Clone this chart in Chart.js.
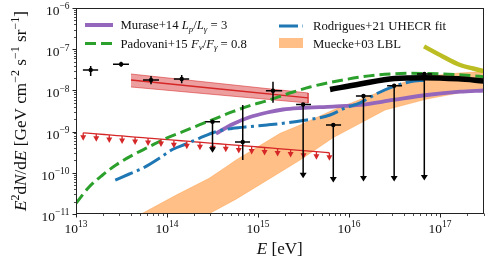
<!DOCTYPE html>
<html><head><meta charset="utf-8">
<script src="https://cdn.jsdelivr.net/npm/chart.js@4.4.1/dist/chart.umd.min.js"></script>
<style>html,body{margin:0;padding:0;background:#fff;overflow:hidden}</style>
</head><body>
<canvas id="c" width="488" height="262"></canvas>
<script>
// ---------- axis ranges and ticks ----------
const xMin = 1e13, xMax = 3e17;
const yMin = 1e-11, yMax = 1e-6;
const xTickExp = [13, 14, 15, 16, 17];
const yTickExp = [-11, -10, -9, -8, -7, -6];
const xTickLabels = ['13', '14', '15', '16', '17'];
const yTickLabels = ['\u221211', '\u221210', '\u22129', '\u22128', '\u22127', '\u22126'];

// ---------- Padovani+15 (green dashed) ----------
const padE = [1.00e13,1.40e13,1.96e13,2.75e13,4.20e13,6.38e13,9.75e13,1.49e14,2.26e14,3.45e14,5.27e14,8.17e14,1.26e15,2.43e15,3.72e15,8.59e15,2.03e16,4.68e16,1.08e17,2.14e17,3.00e17];
const padF = [1.82e-11,4.60e-11,8.85e-11,1.55e-10,2.70e-10,4.30e-10,6.87e-10,9.95e-10,1.45e-9,2.10e-9,3.04e-9,4.27e-9,5.62e-9,9.12e-9,1.21e-8,1.79e-8,2.37e-8,2.60e-8,2.51e-8,2.29e-8,2.14e-8];

// ---------- Murase+14 (purple) ----------
const murE = [3.45e14,5.31e14,8.17e14,1.26e15,1.88e15,2.90e15,6.67e15,1.32e16,3.05e16,7.19e16,1.66e17,3.00e17];
const murF = [8.99e-10,1.53e-9,2.26e-9,2.91e-9,3.44e-9,3.74e-9,4.06e-9,4.43e-9,5.85e-9,7.73e-9,9.29e-9,9.95e-9];

// ---------- Rodrigues+21 (blue dash-dot) ----------
const rodE = [2.70e13,3.85e13,5.41e13,8.22e13,1.16e14,1.62e14,2.26e14,3.45e14,5.27e14,8.17e14,1.26e15,1.88e15,2.90e15,6.18e15,8.59e15,1.32e16,2.03e16,3.05e16,4.68e16,6.84e16];
const rodF = [6.68e-11,9.35e-11,1.29e-10,2.25e-10,3.72e-10,5.00e-10,6.87e-10,9.95e-10,1.20e-9,1.33e-9,1.45e-9,1.59e-9,1.81e-9,2.53e-9,3.55e-9,5.01e-9,8.41e-9,1.23e-8,1.62e-8,1.78e-8];

// ---------- black thick curve ----------
const blkE = [6.18e15,1.32e16,3.16e16,6.76e16,1.58e17,3.00e17];
const blkF = [1.05e-8,1.43e-8,1.95e-8,2.04e-8,1.91e-8,1.70e-8];

// ---------- olive curve ----------
const oliE = [6.67e16,1.08e17,1.66e17,2.31e17,3.00e17];
const oliF = [1.17e-7,6.58e-8,4.14e-8,3.40e-8,2.95e-8];

// ---------- Muecke+03 LBL band ----------
const mueUpE = [3.55e13,5.18e13,1.26e14,2.90e14,4.23e14,5.73e14,1.75e15,2.90e15,6.67e15,2.19e16,3.98e16,7.19e16,1.58e17,3.00e17];
const mueUpF = [6.31e-12,1.00e-11,2.88e-11,7.36e-11,1.29e-10,2.05e-10,9.10e-10,1.45e-9,3.34e-9,9.29e-9,1.58e-8,2.19e-8,2.63e-8,2.88e-8];
const mueLoE = [2.24e14,2.97e14,5.73e14,1.26e15,2.90e15,6.67e15,2.49e16,7.19e16,1.66e17,3.00e17];
const mueLoF = [7.08e-12,1.04e-11,2.29e-11,6.61e-11,2.04e-10,7.08e-10,3.34e-9,6.17e-9,8.71e-9,1.02e-8];

// ---------- red power-law band ----------
const redBandE = [4.02e13, 3.55e15];
const redBandHi = [2.50e-8, 8.65e-9];
const redBandLo = [1.21e-8, 4.94e-9];
const redMid = [1.79e-8, 6.55e-9];

// ---------- red upper limits ----------
const ulE = [1.20e13,1.67e13,2.32e13,3.21e13,4.46e13,6.19e13,8.59e13,1.19e14,1.65e14,2.30e14,3.18e14,4.42e14,6.14e14,8.51e14,1.18e15,1.64e15,2.28e15,3.16e15,4.38e15,6.08e15];
const ulF = [9.33e-10,8.81e-10,8.30e-10,7.83e-10,7.38e-10,6.97e-10,6.58e-10,6.19e-10,5.85e-10,5.51e-10,5.20e-10,4.91e-10,4.62e-10,4.37e-10,4.11e-10,3.88e-10,3.66e-10,3.45e-10,3.26e-10,3.07e-10];

// ---------- black measurements ----------
const obsE   = [1.45e13,3.13e13,6.67e13,1.45e14,3.16e14,6.79e14,1.46e15,3.13e15,6.71e15,1.44e16,3.13e16,6.71e16];
const obsElo = [1.19e13,2.55e13,5.45e13,1.19e14,2.62e14,5.58e14,1.22e15,2.62e15,5.58e15,1.19e16,2.62e16,5.58e16];
const obsEhi = [1.75e13,3.82e13,8.17e13,1.75e14,3.82e14,8.17e14,1.84e15,3.82e15,8.17e15,1.75e16,3.82e16,8.17e16];
const obsF   = [3.13e-8,4.30e-8,1.79e-8,1.89e-8,1.74e-9,5.60e-10,9.84e-9,4.55e-9,1.45e-9,7.31e-9,1.30e-8,2.50e-8];
const obsFlo = [2.24e-8,3.76e-8,1.41e-8,1.49e-8,3.08e-10,2.05e-10,5.02e-9,7.35e-11,5.82e-11,6.15e-11,6.15e-11,6.50e-11];
const obsFhi = [3.91e-8,4.98e-8,2.24e-8,2.37e-8,1.74e-9,4.43e-9,1.63e-8,4.55e-9,1.45e-9,7.31e-9,1.30e-8,2.50e-8];
const obsUL  = [false,false,false,false,true,false,false,true,true,true,true,true];

// ---------- legend / titles ----------
const legendMurase = [{t:'Murase+14 '},{t:'L',it:1},{t:'p',it:1,sub:1},{t:'/'},{t:'L',it:1},{t:'\u03b3',it:1,sub:1},{t:' = 3'}];
const legendPadovani = [{t:'Padovani+15 '},{t:'F',it:1},{t:'\u03bd',it:1,sub:1},{t:'/'},{t:'F',it:1},{t:'\u03b3',it:1,sub:1},{t:' = 0.8'}];
const legendRodrigues = [{t:'Rodrigues+21 UHECR fit'}];
const legendMuecke = [{t:'Muecke+03 LBL'}];
const yTitle = [{t:'E',it:1},{t:'2',sup:1},{t:'d'},{t:'N',it:1},{t:'/d'},{t:'E',it:1},{t:' [GeV cm'},{t:'\u22122',sup:1},{t:' s'},{t:'\u22121',sup:1},{t:' sr'},{t:'\u22121',sup:1},{t:']'}];
const xTitle = [{t:'E',it:1},{t:' [eV]'}];

// ---------- colours ----------
const C_PURPLE = '#9467bd', C_GREEN = '#2ca02c', C_BLUE = '#1f77b4', C_RED = '#d62728', C_OLIVE = '#bcbd22';
const C_ORANGE_FILL = 'rgba(255,127,14,0.5)';
const FONT = '"Liberation Serif", "Times New Roman", serif';

const pts = (xs, ys) => xs.map((x, i) => ({x, y: ys[i]}));
const poly = (xa, ya, xb, yb) => pts(xa, ya).concat(pts(xb, yb).reverse());

function segSize(s, size) { return (s.sup || s.sub) ? size * 0.7 : size; }
function segFont(s, size) { return (s.it ? 'italic ' : '') + segSize(s, size).toFixed(2) + 'px ' + FONT; }
function richWidth(ctx, segs, size) {
  let w = 0;
  for (const s of segs) { ctx.font = segFont(s, size); w += ctx.measureText(s.t).width; }
  return w;
}
function drawRich(ctx, segs, x, y, size, align) {
  const w = richWidth(ctx, segs, size);
  let cx = align === 'center' ? x - w / 2 : align === 'right' ? x - w : x;
  ctx.textAlign = 'left'; ctx.textBaseline = 'alphabetic';
  for (const s of segs) {
    ctx.font = segFont(s, size);
    const dy = s.sup ? -size * 0.42 : s.sub ? size * 0.22 : 0;
    ctx.fillText(s.t, cx, y + dy);
    cx += ctx.measureText(s.t).width;
  }
}
function tri(ctx, x, tipY, w, h) {
  ctx.beginPath();
  ctx.moveTo(x - w / 2, tipY - h); ctx.lineTo(x + w / 2, tipY - h); ctx.lineTo(x, tipY);
  ctx.closePath(); ctx.fill();
}

const deco = {
  id: 'deco',
  afterDatasetsDraw(chart) {
    const ctx = chart.ctx, X = chart.scales.x, Y = chart.scales.y, a = chart.chartArea;
    ctx.save();
    ctx.beginPath(); ctx.rect(a.left, a.top, a.right - a.left, a.bottom - a.top); ctx.clip();
    // red upper-limit arrows
    ctx.strokeStyle = C_RED; ctx.fillStyle = C_RED; ctx.lineWidth = 1.3;
    for (let k = 0; k < ulE.length; k++) {
      const x = X.getPixelForValue(ulE[k]), y = Y.getPixelForValue(ulF[k]);
      ctx.beginPath(); ctx.moveTo(x, y); ctx.lineTo(x, y + 4); ctx.stroke();
      tri(ctx, x, y + 8, 6, 5.5);
    }
    // black measurements
    ctx.strokeStyle = '#000'; ctx.fillStyle = '#000'; ctx.lineWidth = 1.5;
    for (let i = 0; i < obsE.length; i++) {
      const x = X.getPixelForValue(obsE[i]), y = Y.getPixelForValue(obsF[i]);
      const x0 = X.getPixelForValue(obsElo[i]), x1 = X.getPixelForValue(obsEhi[i]);
      const yHi = Y.getPixelForValue(obsFhi[i]), yLo = Y.getPixelForValue(obsFlo[i]);
      ctx.beginPath(); ctx.moveTo(x0, y); ctx.lineTo(x1, y); ctx.stroke();
      if (obsUL[i]) {
        ctx.beginPath(); ctx.moveTo(x, y); ctx.lineTo(x, yLo - 4); ctx.stroke();
        tri(ctx, x, yLo, 7, 5.5);
      } else {
        ctx.beginPath(); ctx.moveTo(x, yHi); ctx.lineTo(x, yLo); ctx.stroke();
      }
      ctx.beginPath(); ctx.arc(x, y, 2.2, 0, Math.PI * 2); ctx.fill();
    }
    ctx.restore();
  },
  afterDraw(chart) {
    const ctx = chart.ctx, X = chart.scales.x, Y = chart.scales.y, a = chart.chartArea;
    ctx.save();
    // frame
    ctx.strokeStyle = '#222'; ctx.lineWidth = 1;
    ctx.strokeRect(Math.round(a.left) + 0.5, Math.round(a.top) + 0.5, Math.round(a.right - a.left) - 1, Math.round(a.bottom - a.top) - 1);
    // ticks
    const bot = Math.round(a.bottom) - 0.5, lft = Math.round(a.left) + 0.5;
    for (let j = 0; j < xTickExp.length; j++) {
      const e = xTickExp[j];
      for (let k = 1; k <= 9; k++) {
        const v = k * Math.pow(10, e);
        if (v < xMin * 0.999 || v > xMax * 1.001) continue;
        const x = Math.round(X.getPixelForValue(v)) + 0.5;
        ctx.lineWidth = k === 1 ? 1 : 0.8;
        ctx.beginPath(); ctx.moveTo(x, bot); ctx.lineTo(x, bot + (k === 1 ? 4 : 2.5)); ctx.stroke();
      }
    }
    for (let j = 0; j < yTickExp.length; j++) {
      const e = yTickExp[j];
      for (let k = 1; k <= 9; k++) {
        const v = k * Math.pow(10, e);
        if (v < yMin * 0.999 || v > yMax * 1.001) continue;
        const y = Math.round(Y.getPixelForValue(v)) + 0.5;
        ctx.lineWidth = k === 1 ? 1 : 0.8;
        ctx.beginPath(); ctx.moveTo(lft, y); ctx.lineTo(lft - (k === 1 ? 4 : 2.5), y); ctx.stroke();
      }
    }
    // tick labels
    ctx.fillStyle = '#111';
    const tSize = 13.5;
    for (let j = 0; j < xTickExp.length; j++) {
      const x = X.getPixelForValue(Math.pow(10, xTickExp[j]));
      drawRich(ctx, [{t:'10'},{t:xTickLabels[j],sup:1}], x, 232.5, tSize, 'center');
    }
    for (let j = 0; j < yTickExp.length; j++) {
      const y = Y.getPixelForValue(Math.pow(10, yTickExp[j]));
      drawRich(ctx, [{t:'10'},{t:yTickLabels[j],sup:1}], 69.5, y + 7, tSize, 'right');
    }
    // axis titles
    let s = 14;
    s = s * 46 / richWidth(ctx, xTitle, s);
    drawRich(ctx, xTitle, (a.left + a.right) / 2, 253.5, s, 'center');
    let sy = 14;
    sy = sy * 200 / richWidth(ctx, yTitle, sy);
    ctx.save(); ctx.translate(26, 111); ctx.rotate(-Math.PI / 2);
    drawRich(ctx, yTitle, 0, 0, sy, 'center');
    ctx.restore();
    // legend
    let ls = 13;
    ls = ls * 133 / richWidth(ctx, legendRodrigues, ls);
    ctx.lineCap = 'butt';
    ctx.strokeStyle = C_PURPLE; ctx.lineWidth = 4; ctx.setLineDash([]);
    ctx.beginPath(); ctx.moveTo(85, 25); ctx.lineTo(113, 25); ctx.stroke();
    ctx.strokeStyle = C_GREEN; ctx.lineWidth = 3; ctx.setLineDash([11, 5]);
    ctx.beginPath(); ctx.moveTo(85, 43.5); ctx.lineTo(113, 43.5); ctx.stroke();
    ctx.strokeStyle = C_BLUE; ctx.lineWidth = 3; ctx.setLineDash([19, 4.5, 3, 4.5]);
    ctx.beginPath(); ctx.moveTo(279, 26); ctx.lineTo(303, 26); ctx.stroke();
    ctx.setLineDash([]);
    ctx.fillStyle = C_ORANGE_FILL; ctx.fillRect(279, 38, 24, 10);
    ctx.fillStyle = '#111';
    drawRich(ctx, legendMurase, 120.5, 29.3, ls, 'left');
    drawRich(ctx, legendPadovani, 120.5, 47.7, ls, 'left');
    drawRich(ctx, legendRodrigues, 313, 30.3, ls, 'left');
    drawRich(ctx, legendMuecke, 313, 48.2, ls, 'left');
    ctx.restore();
  }
};

const lineDs = (label, xs, ys, color, width, dash, order) => ({
  label, data: pts(xs, ys), showLine: true, borderColor: color, borderWidth: width,
  borderDash: dash, pointRadius: 0, fill: false, cubicInterpolationMode: 'monotone', order,
  borderCapStyle: 'butt', borderJoinStyle: 'round'
});

const hiddenAxis = { grid: { display: false, drawTicks: false, tickLength: 0 }, ticks: { display: false, padding: 0 }, border: { display: false }, title: { display: false } };

new Chart(document.getElementById('c'), {
  type: 'scatter',
  data: {
    datasets: [
      { label: 'obs', data: pts(obsE, obsF), showLine: false, pointRadius: 0, order: 0 },
      lineDs('olive', oliE, oliF, C_OLIVE, 4.5, [], 1),
      lineDs('black', blkE, blkF, '#000', 5.5, [], 2),
      lineDs('Padovani+15', padE, padF, C_GREEN, 3, [11, 5], 3),
      lineDs('Rodrigues+21 UHECR fit', rodE, rodF, C_BLUE, 3, [19, 4.5, 3, 4.5], 4),
      lineDs('Murase+14', murE, murF, C_PURPLE, 3.8, [], 5),
      lineDs('red pl', redBandE, redMid, C_RED, 1.3, [], 6),
      lineDs('red UL', ulE, ulF, C_RED, 1.3, [], 7),
      { label: 'red band', data: poly(redBandE, redBandHi, redBandE, redBandLo), showLine: true,
        borderColor: 'rgba(214,39,40,0.55)', borderWidth: 1, backgroundColor: 'rgba(214,39,40,0.45)',
        fill: 'shape', pointRadius: 0, tension: 0, order: 8 },
      { label: 'Muecke+03 LBL', data: poly(mueUpE, mueUpF, mueLoE, mueLoF), showLine: true,
        borderColor: 'rgba(255,127,14,0.35)', borderWidth: 0.8, backgroundColor: C_ORANGE_FILL,
        fill: 'shape', pointRadius: 0, tension: 0, order: 9 }
    ]
  },
  options: {
    responsive: false, animation: false, devicePixelRatio: 1,
    layout: { padding: { left: 76, right: 4.5, top: 8, bottom: 48 } },
    plugins: { legend: { display: false }, tooltip: { enabled: false } },
    events: [],
    scales: {
      x: Object.assign({ type: 'logarithmic', min: xMin, max: xMax, bounds: 'data' }, hiddenAxis),
      y: Object.assign({ type: 'logarithmic', min: yMin, max: yMax, bounds: 'data' }, hiddenAxis)
    }
  },
  plugins: [deco]
});
</script>
</body></html>
